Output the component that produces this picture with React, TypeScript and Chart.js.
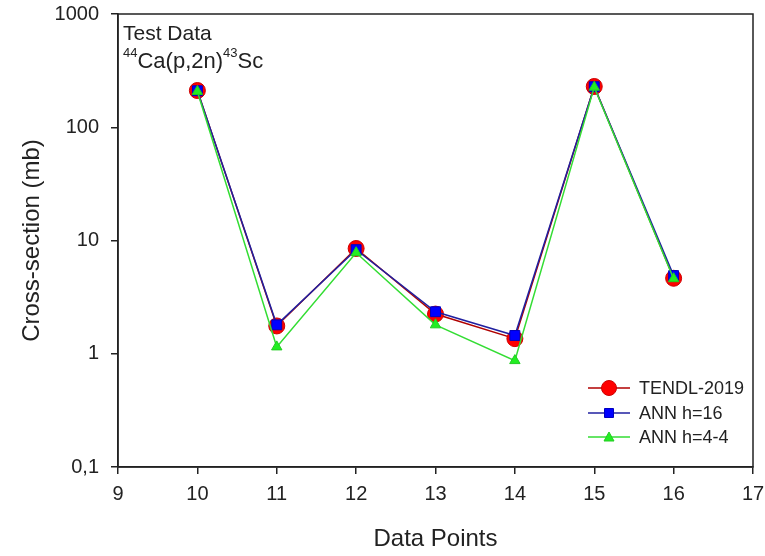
import React, { useEffect, useRef } from "react";
import { Chart, registerables } from "chart.js";

Chart.register(...registerables);

const xPoints = [10, 11, 12, 13, 14, 15, 16];
const tendl = [211, 1.76, 8.5, 2.24, 1.36, 229, 4.64];
const ann16 = [210, 1.8, 8.3, 2.35, 1.45, 228, 4.9];
const ann44 = [207, 1.15, 7.8, 1.8, 0.87, 226, 4.6];
const yTicks = [0.1, 1, 10, 100, 1000];
const yTickLabels = ["0,1", "1", "10", "100", "1000"];
const legendLabels = ["TENDL-2019", "ANN h=16", "ANN h=4-4"];

const FONT = "'Liberation Sans', Arial, sans-serif";

const toXY = (arr: number[]) => arr.map((v, i) => ({ x: xPoints[i], y: v }));

const overlayPlugin = {
  id: "overlay",
  afterDraw(chart: any) {
    const { ctx, chartArea } = chart;
    ctx.save();
    // frame
    ctx.strokeStyle = "#222";
    ctx.lineWidth = 1.5;
    ctx.strokeRect(chartArea.left, chartArea.top, chartArea.right - chartArea.left, chartArea.bottom - chartArea.top);
    // annotation text
    ctx.fillStyle = "#222";
    ctx.textBaseline = "middle";
    ctx.textAlign = "left";
    ctx.font = `21px ${FONT}`;
    const tx = chartArea.left + 5;
    ctx.fillText("Test Data", tx, 34);
    let x = tx;
    const by = 62;
    ctx.font = `13px ${FONT}`;
    ctx.fillText("44", x, by - 9);
    x += ctx.measureText("44").width;
    ctx.font = `22px ${FONT}`;
    ctx.fillText("Ca(p,2n)", x, by);
    x += ctx.measureText("Ca(p,2n)").width;
    ctx.font = `13px ${FONT}`;
    ctx.fillText("43", x, by - 9);
    x += ctx.measureText("43").width;
    ctx.font = `22px ${FONT}`;
    ctx.fillText("Sc", x, by);

    // legend
    const styles = [
      { line: "#b00000", fill: "#ff0000", stroke: "#cc0000", shape: "circle", r: 7.5 },
      { line: "#2020a0", fill: "#0000ff", stroke: "#0000c0", shape: "rect", r: 4.5 },
      { line: "#33dd33", fill: "#22ee22", stroke: "#22cc22", shape: "triangle", r: 5 },
    ];
    const lx0 = 588;
    const lx1 = 630;
    const rows = [388, 413, 437];
    ctx.font = `18px ${FONT}`;
    ctx.textBaseline = "middle";
    legendLabels.forEach((lab, i) => {
      const s = styles[i];
      const y = rows[i];
      ctx.strokeStyle = s.line;
      ctx.lineWidth = 1.5;
      ctx.beginPath();
      ctx.moveTo(lx0, y);
      ctx.lineTo(lx1, y);
      ctx.stroke();
      const cx = (lx0 + lx1) / 2;
      ctx.fillStyle = s.fill;
      ctx.strokeStyle = s.stroke;
      ctx.lineWidth = 1;
      ctx.beginPath();
      if (s.shape === "circle") {
        ctx.arc(cx, y, s.r, 0, Math.PI * 2);
      } else if (s.shape === "rect") {
        ctx.rect(cx - s.r, y - s.r, s.r * 2, s.r * 2);
      } else {
        ctx.moveTo(cx, y - s.r);
        ctx.lineTo(cx + s.r, y + s.r * 0.8);
        ctx.lineTo(cx - s.r, y + s.r * 0.8);
        ctx.closePath();
      }
      ctx.fill();
      ctx.stroke();
      ctx.fillStyle = "#222";
      ctx.fillText(lab, 639, y + 1);
    });
    ctx.restore();
  },
};

export default function App() {
  const ref = useRef<HTMLCanvasElement | null>(null);
  useEffect(() => {
    document.body.style.margin = "0";
    const chart = new Chart(ref.current as HTMLCanvasElement, {
      type: "line",
      data: {
        datasets: [
          {
            label: legendLabels[0],
            data: toXY(tendl),
            borderColor: "#b00000",
            backgroundColor: "#ff0000",
            pointBorderColor: "#cc0000",
            pointBackgroundColor: "#ff0000",
            borderWidth: 1.5,
            pointStyle: "circle",
            pointRadius: 8,
            pointBorderWidth: 1,
            order: 2,
          },
          {
            label: legendLabels[1],
            data: toXY(ann16),
            borderColor: "#2020a0",
            backgroundColor: "#0000ff",
            pointBorderColor: "#0000c0",
            pointBackgroundColor: "#0000ff",
            borderWidth: 1.5,
            pointStyle: "rect",
            pointRadius: 7,
            pointBorderWidth: 1,
            order: 1,
          },
          {
            label: legendLabels[2],
            data: toXY(ann44),
            borderColor: "#33dd33",
            backgroundColor: "#22ee22",
            pointBorderColor: "#22cc22",
            pointBackgroundColor: "#22ee22",
            borderWidth: 1.5,
            pointStyle: "triangle",
            pointRadius: 6,
            pointBorderWidth: 1,
            order: 0,
          },
        ],
      },
      options: {
        animation: false,
        responsive: false,
        maintainAspectRatio: false,
        layout: { padding: { top: 14, right: 12, left: 0, bottom: 0 } },
        plugins: { legend: { display: false }, tooltip: { enabled: false } },
        scales: {
          x: {
            type: "linear",
            min: 9,
            max: 17,
            ticks: {
              stepSize: 1,
              color: "#222",
              font: { family: FONT, size: 20 },
              padding: 8,
            },
            grid: { drawOnChartArea: false, drawTicks: true, tickLength: 7, color: "#222", lineWidth: 1.5 },
            border: { display: true, color: "#222", width: 1.5 },
            title: {
              display: true,
              text: "Data Points",
              color: "#222",
              font: { family: FONT, size: 24 },
              padding: { top: 0, bottom: 2 },
            },
            afterFit(scale: any) {
              scale.height = 89;
              scale.paddingLeft = 0;
              scale.paddingRight = 0;
            },
          },
          y: {
            type: "logarithmic",
            min: 0.1,
            max: 1000,
            afterBuildTicks(scale: any) {
              scale.ticks = yTicks.map((v) => ({ value: v }));
            },
            ticks: {
              color: "#222",
              font: { family: FONT, size: 20 },
              padding: 12,
              callback: (v: any) => {
                const i = yTicks.indexOf(Number(v));
                return i >= 0 ? yTickLabels[i] : "";
              },
            },
            grid: { drawOnChartArea: false, drawTicks: true, tickLength: 7, color: "#222", lineWidth: 1.5 },
            border: { display: true, color: "#222", width: 1.5 },
            title: {
              display: true,
              text: "Cross-section (mb)",
              color: "#222",
              font: { family: FONT, size: 24 },
              padding: { top: 18, bottom: 0 },
            },
            afterFit(scale: any) {
              scale.width = 118;
              scale.paddingTop = 0;
              scale.paddingBottom = 0;
            },
          },
        },
      },
      plugins: [overlayPlugin],
    });
    return () => chart.destroy();
  }, []);
  return (
    <div style={{ width: 765, height: 556, background: "#fff" }}>
      <canvas ref={ref} width={765} height={556} style={{ display: "block" }} />
    </div>
  );
}
